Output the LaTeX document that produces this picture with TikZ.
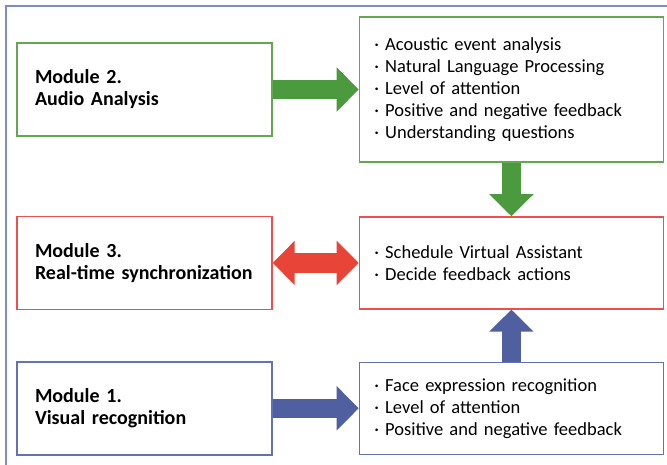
\documentclass[tikz,border=0pt]{standalone}
\usepackage{fontspec}
\setmainfont{Carlito}
\usepackage{xcolor}
\usepackage{tikz}
\usetikzlibrary{positioning,arrows.meta}

\definecolor{frameline}{HTML}{7F8CC8}
\definecolor{audioline}{HTML}{62A84E}
\definecolor{audioarrow}{HTML}{4B9A3D}
\definecolor{syncline}{HTML}{EE4F4C}
\definecolor{syncarrow}{HTML}{E84438}
\definecolor{visualline}{HTML}{6372B0}
\definecolor{visualarrow}{HTML}{4F5F9F}

\newcommand{\boxfont}{\fontsize{18.5pt}{22pt}\selectfont}
\newcommand{\modulefont}{\fontsize{20pt}{22pt}\selectfont\bfseries}

\begin{document}
\begin{tikzpicture}[
    node distance=86pt,
    module/.style={rectangle, draw, line width=1.4pt, minimum width=255pt, minimum height=93pt,
        text width=219pt, inner xsep=18pt, align=left, font=\modulefont},
    tasks/.style={rectangle, draw, line width=1.4pt, minimum width=304pt,
        text width=274pt, inner xsep=15pt, align=left, font=\boxfont},
    fat/.style={line width=19pt, -{Triangle[length=22pt,width=43pt]}},
    fatboth/.style={line width=20pt, {Triangle[length=22pt,width=43pt]}-{Triangle[length=22pt,width=43pt]}}
]
    \useasboundingbox (0,0) rectangle (667pt,-464pt);
    \draw[frameline, line width=1.5pt] (6pt,-6pt) rectangle (690pt,-490pt);

    \node[module, draw=audioline] (audio) at (144.5pt,-89.5pt) {Module 2.\\Audio Analysis};
    \node[tasks, draw=audioline, minimum height=145pt, right=of audio] (audiotasks)
        {· Acoustic event analysis\\· Natural Language Processing\\· Level of attention\\
         · Positive and negative feedback\\· Understanding questions};

    \node[module, draw=syncline, below=79pt of audio] (sync) {Module 3.\\Real-time synchronization};
    \node[tasks, draw=syncline, minimum height=92pt, right=of sync] (synctasks)
        {· Schedule Virtual Assistant\\· Decide feedback actions};

    \node[module, draw=visualline, below=51pt of sync] (visual) {Module 1.\\Visual recognition};
    \node[tasks, draw=visualline, minimum height=92pt, right=of visual] (visualtasks)
        {· Face expression recognition\\· Level of attention\\· Positive and negative feedback};

    \draw[fat, audioarrow] (audio) -- (audiotasks);
    \draw[fat, audioarrow] (audiotasks) -- (synctasks);
    \draw[fatboth, syncarrow] (sync) -- (synctasks);
    \draw[fat, visualarrow] (visual) -- (visualtasks);
    \draw[fat, visualarrow] (visualtasks) -- (synctasks);
\end{tikzpicture}
\end{document}
